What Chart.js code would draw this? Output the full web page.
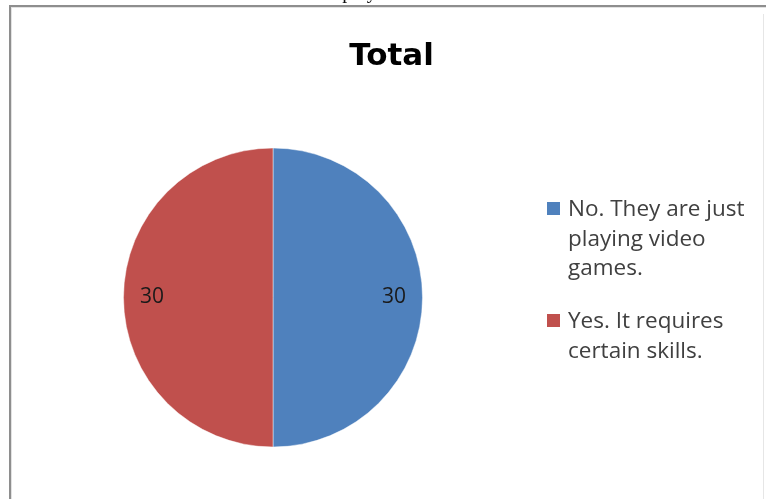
<!DOCTYPE html>
<html>
<head>
<meta charset="utf-8">
<script src="https://cdn.jsdelivr.net/npm/chart.js@4/dist/chart.umd.min.js"></script>
<style>
  html, body { margin: 0; padding: 0; background: #fff; }
  #page { position: relative; width: 766px; height: 499px; overflow: hidden; background: #fff; }
  #caption {
    position: absolute; left: -10px; top: -19px; width: 766px; text-align: center;
    font-family: "Liberation Serif", serif; font-size: 20px; line-height: 20px;
    color: #111; white-space: nowrap;
  }
  #frameTop { position: absolute; left: 9px; top: 5px; width: 757px; height: 2px; background: #8e8e8e; }
  #frameTopInner { position: absolute; left: 11px; top: 7px; width: 755px; height: 1px; background: #e2e2e2; }
  #frameLeft { position: absolute; left: 9px; top: 5px; width: 2px; height: 494px; background: #8e8e8e; }
  #frameLeftInner { position: absolute; left: 11px; top: 7px; width: 1px; height: 492px; background: #e2e2e2; }
  #frameRight { position: absolute; left: 763px; top: 14px; width: 1px; height: 485px; background: #e6e6e6; }
  #chartBox { position: absolute; left: 0; top: 0; width: 766px; height: 499px; }
  #title {
    position: absolute; left: 0; top: 39px; width: 783px; text-align: center;
    font-family: "DejaVu Sans", sans-serif; font-weight: bold; font-size: 31px; line-height: 31px;
    color: #000; white-space: nowrap;
  }
  #legend { position: absolute; left: 547px; top: 0; }
  .item { position: absolute; left: 0; white-space: nowrap; }
  .swatch { position: absolute; left: 0; width: 13px; height: 13px; }
  .text {
    position: absolute; left: 21px; top: 0;
    font-family: "Open Sans", sans-serif; font-size: 22.5px; line-height: 29.5px; color: #404040;
  }
</style>
</head>
<body>
<div id="page">
  <div id="chartBox"><canvas id="pie" width="766" height="499"></canvas></div>
  <div id="caption"></div>
  <div id="frameTop"></div>
  <div id="frameTopInner"></div>
  <div id="frameLeft"></div>
  <div id="frameLeftInner"></div>
  <div id="frameRight"></div>
  <div id="title"></div>
  <div id="legend"></div>
</div>
<script>
// Survey answers and their counts
const captionText = "Chart 3: Should these players be considered athletes";
const chartTitle = "Total";
const categories = ["No. They are just playing video games.", "Yes. It requires certain skills."];
const legendLines = [["No. They are just", "playing video", "games."], ["Yes. It requires", "certain skills."]];
const counts = [30, 30];
const sliceColors = ["#4F81BD", "#C0504D"];

document.getElementById("caption").textContent = captionText;
document.getElementById("title").textContent = chartTitle;

// Legend with wrapped entries
const legendTops = [193, 305];
const legend = document.getElementById("legend");
legendLines.forEach((lines, i) => {
  const item = document.createElement("div");
  item.className = "item";
  item.style.top = legendTops[i] + "px";
  const sw = document.createElement("div");
  sw.className = "swatch";
  sw.style.top = "9px";
  sw.style.background = sliceColors[i];
  const tx = document.createElement("div");
  tx.className = "text";
  tx.innerHTML = lines.map(l => l.replace(/&/g, "&amp;").replace(/</g, "&lt;")).join("<br>");
  item.appendChild(sw);
  item.appendChild(tx);
  legend.appendChild(item);
});

// Value labels placed inside each slice, near the rim
const sliceValueLabels = {
  id: "sliceValueLabels",
  afterDatasetsDraw(chart) {
    const ctx = chart.ctx;
    const meta = chart.getDatasetMeta(0);
    const values = chart.data.datasets[0].data;
    ctx.save();
    ctx.font = "21px 'Open Sans', sans-serif";
    ctx.fillStyle = "#1a1a1a";
    ctx.textAlign = "center";
    ctx.textBaseline = "middle";
    meta.data.forEach((arc, i) => {
      const p = arc.getProps(["x", "y", "startAngle", "endAngle", "outerRadius"], true);
      const mid = (p.startAngle + p.endAngle) / 2;
      const r = p.outerRadius * 0.81;
      ctx.fillText(String(values[i]), p.x + Math.cos(mid) * r, p.y + Math.sin(mid) * r);
    });
    ctx.restore();
  }
};

new Chart(document.getElementById("pie"), {
  type: "pie",
  data: {
    labels: categories,
    datasets: [{
      data: counts,
      backgroundColor: sliceColors,
      borderColor: "rgba(255,255,255,0.45)",
      borderWidth: 1
    }]
  },
  options: {
    responsive: false,
    animation: false,
    layout: { padding: { left: 123, right: 343, top: 147, bottom: 51 } },
    plugins: {
      legend: { display: false },
      title: { display: false },
      tooltip: { enabled: false }
    }
  },
  plugins: [sliceValueLabels]
});
</script>
</body>
</html>
